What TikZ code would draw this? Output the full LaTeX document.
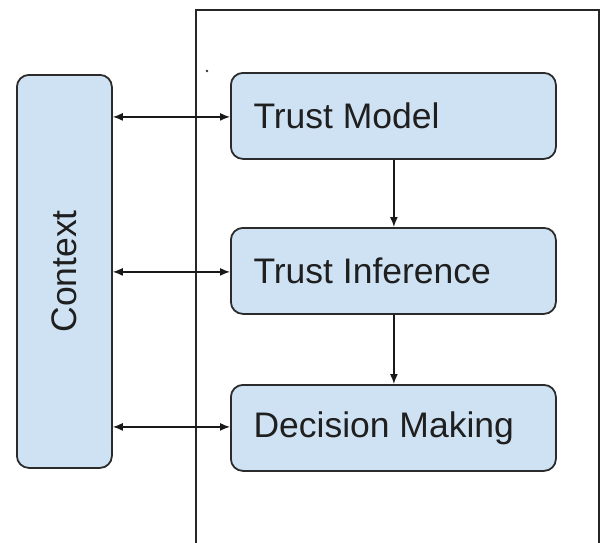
\documentclass[tikz,border=0pt]{standalone}
\usepackage{fontspec}
\setmainfont{Liberation Sans}
\usetikzlibrary{arrows.meta}
\definecolor{boxfill}{HTML}{CFE2F3}
\definecolor{boxline}{HTML}{2B2B2B}
\begin{document}
\begin{tikzpicture}[x=1pt,y=-1pt,
  stage/.style={draw=boxline, line width=1.8pt, fill=boxfill, rounded corners=12pt,
    minimum width=325pt, minimum height=86pt, inner sep=0pt, anchor=north west},
  ctxbox/.style={draw=boxline, line width=1.8pt, fill=boxfill, rounded corners=12pt,
    minimum width=95pt, minimum height=393pt, inner sep=0pt, anchor=north west},
  label/.style={font=\fontsize{35.5}{40}\selectfont, text=black!88},
  link/.style={line width=1.4pt, draw=black!90, -{Latex[length=10pt,width=8pt]}},
  biglink/.style={line width=1.4pt, draw=black!90, {Latex[length=10pt,width=8pt]}-{Latex[length=10pt,width=8pt]}}
]
\useasboundingbox (0,0) rectangle (601,542);

% enclosing frame, open at the bottom
\draw[line width=1.6pt, draw=black!85] (196,548) -- (196,10) -- (599,10) -- (599,548);
\fill[black!80] (207,71) circle (1.4pt);

% context column
\node[ctxbox] (ctx) at (16,74) {};
\node[label, rotate=90] (ctxlabel) at (ctx.center) {Context};

% the three stages
\node[stage] (tm) at (230,72) {};
\node[label, anchor=west] (tmlabel) at ([xshift=20pt]tm.west) {Trust Model};
\node[stage] (ti) at (230,227) {};
\node[label, anchor=west] (tilabel) at ([xshift=20pt]ti.west) {Trust Inference};
\node[stage] (dm) at (230,384) {};
\node[label, anchor=west] (dmlabel) at ([xshift=20pt]dm.west) {Decision Making};

% flow between stages
\draw[link] ([xshift=0.5pt]tm.south) -- ([xshift=0.5pt]ti.north);
\draw[link] ([xshift=0.5pt]ti.south) -- ([xshift=0.5pt]dm.north);

% exchanges with the context
\draw[biglink] ([yshift=-1pt]tm.west -| ctx.east) -- ([yshift=-1pt]tm.west);
\draw[biglink] ([yshift=-1pt]ti.west -| ctx.east) -- ([yshift=-1pt]ti.west);
\draw[biglink] ([yshift=1pt]dm.west -| ctx.east) -- ([yshift=1pt]dm.west);
\end{tikzpicture}
\end{document}
